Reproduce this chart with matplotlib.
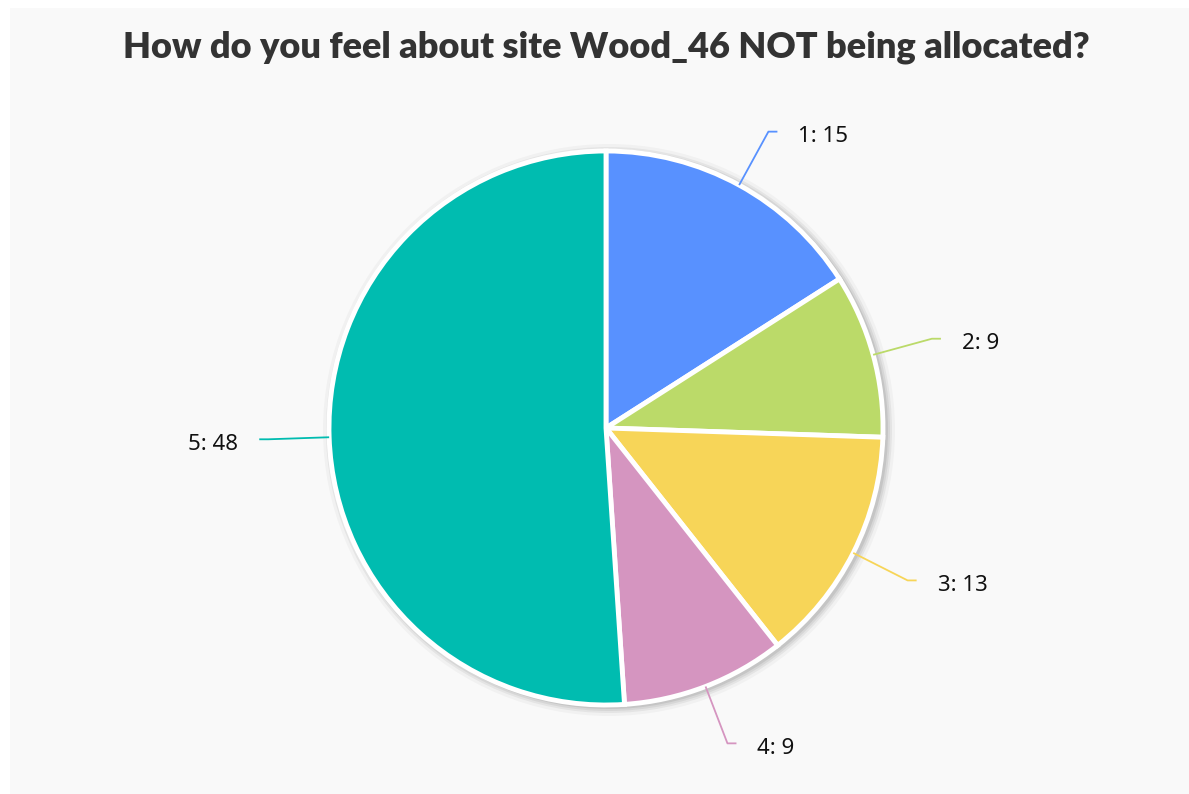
#!/usr/bin/env python3

import numpy as np
import matplotlib
matplotlib.use('Agg')
import matplotlib.pyplot as plt
from matplotlib.patches import Rectangle, Circle

categories = ['1', '2', '3', '4', '5']
counts = [15, 9, 13, 9, 48]
colors = ['#5891ff', '#bbda69', '#f7d558', '#d595c0', '#00bcb0']
title = 'How do you feel about site Wood_46 NOT being allocated?'

W, H = 1189, 794
cx, cy, R = 606, H - 428, 277


def main():
    fig = plt.figure(figsize=(W / 100, H / 100), dpi=100)
    fig.patch.set_facecolor('white')

    ax = fig.add_axes([0, 0, 1, 1])
    ax.add_patch(Rectangle((10, 0), W - 10, H - 8, facecolor='#f9f9f9', edgecolor='none', zorder=0))

    # soft shadow behind the pie, a bit stronger to the lower right
    for k, a in zip([9, 6, 4, 2], [0.03, 0.05, 0.06, 0.08]):
        ax.add_patch(Circle((cx + 3, cy - 2), R + k, facecolor='black', alpha=a, edgecolor='none', zorder=1))

    wedges, _ = ax.pie(counts, colors=colors, startangle=90, counterclock=False,
                       center=(cx, cy), radius=R, frame=True,
                       wedgeprops=dict(edgecolor='white', linewidth=3.5))
    for w in wedges:
        w.set_zorder(2)
    ax.set_xlim(0, W)
    ax.set_ylim(0, H)
    ax.set_aspect('equal')
    ax.axis('off')

    total = float(sum(counts))
    cum = np.cumsum([0] + counts)
    for i, (cat, v) in enumerate(zip(categories, counts)):
        mid = (cum[i] + v / 2.0) / total * 360.0
        ang = np.deg2rad(90 - mid)
        x0, y0 = cx + R * np.cos(ang), cy + R * np.sin(ang)
        x1, y1 = cx + 1.22 * R * np.cos(ang), cy + 1.22 * R * np.sin(ang)
        side = 1 if np.cos(ang) >= 0 else -1
        x2 = x1 + side * 9
        ax.plot([x0, x1, x2], [y0, y1, y1], color=colors[i], lw=1.3, zorder=3,
                solid_capstyle='butt')
        ax.text(x2 + side * 21, y1 - 5, '%s: %d' % (cat, v), fontsize=16, family='Noto Sans',
                color='#111111', ha='left' if side > 0 else 'right', va='center')

    fig.text(606 / W, 1 - 47 / H, title, fontsize=26, fontweight='heavy', family='Lato',
             color='#333333', ha='center', va='center')

    fig.savefig('out.png', dpi=100, facecolor=fig.get_facecolor())


if __name__ == "__main__":
    main()
